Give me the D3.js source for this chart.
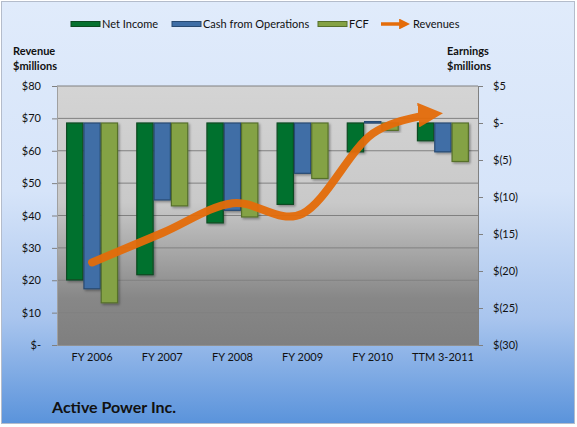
<!DOCTYPE html>
<html>
<head>
<meta charset="utf-8">
<script src="https://cdn.jsdelivr.net/npm/d3@7"></script>
<style>
  html, body { margin: 0; padding: 0; background: #fff; }
  svg text { font-family: Lato, "Open Sans", sans-serif; fill: #111; }
</style>
</head>
<body>
<div id="chart"></div>
<script>
// ── Data ────────────────────────────────────────────────────────────────────
const periods   = ['FY 2006', 'FY 2007', 'FY 2008', 'FY 2009', 'FY 2010', 'TTM 3-2011'];
const netIncome = [-21.2, -20.5, -13.5, -11.0, -3.9, -2.4];
const cashOps   = [-22.4, -10.4, -11.8, -6.8, 0.2, -3.9];
const fcf       = [-24.3, -11.2, -12.7, -7.5, -1.0, -5.2];
const revenues  = [25.5, 34.6, 43.8, 40.6, 65.3, 71.6];
const revTicks  = [0, 10, 20, 30, 40, 50, 60, 70, 80];
const earnTicks = [5, 0, -5, -10, -15, -20, -25, -30];

const series = [
  { key: 'Net Income',           values: netIncome, fill: '#05712f', stroke: '#0a4a20' },
  { key: 'Cash from Operations', values: cashOps,   fill: '#3f6ea6', stroke: '#284a72' },
  { key: 'FCF',                  values: fcf,       fill: '#84a244', stroke: '#56702c' },
];

// ── Layout ──────────────────────────────────────────────────────────────────
const W = 577, H = 427;
const P = { left: 57, right: 478, top: 86, bottom: 345 };

const svg = d3.select('#chart').append('svg').attr('width', W).attr('height', H);
const defs = svg.append('defs');

const bgGrad = defs.append('linearGradient').attr('id', 'bg')
  .attr('x1', 0).attr('y1', 0).attr('x2', 0).attr('y2', 1);
[[0, '#e0ebfb'], [0.45, '#d6e4f9'], [0.75, '#a9c5ee'], [1, '#5a93db']]
  .forEach(([o, c]) => bgGrad.append('stop').attr('offset', o).attr('stop-color', c));

const plotGrad = defs.append('linearGradient').attr('id', 'plotbg')
  .attr('x1', 0).attr('y1', 0).attr('x2', 0).attr('y2', 1);
[[0, '#d4d4d4'], [0.45, '#c9c9c9'], [0.82, '#878787'], [1, '#7f7f7f']]
  .forEach(([o, c]) => plotGrad.append('stop').attr('offset', o).attr('stop-color', c));

defs.append('filter').attr('id', 'shadow').attr('x', '-20%').attr('y', '-20%')
  .attr('width', '150%').attr('height', '150%')
  .append('feDropShadow').attr('dx', 1.5).attr('dy', 1.5)
  .attr('stdDeviation', 1).attr('flood-color', '#000').attr('flood-opacity', 0.35);

defs.append('marker').attr('id', 'arrow')
  .attr('viewBox', '0 0 10 10').attr('refX', 10).attr('refY', 5)
  .attr('markerWidth', 3.1).attr('markerHeight', 3.1)
  .attr('orient', 'auto')
  .append('path').attr('d', 'M0,0 L10,5 L0,10 z').attr('fill', '#e46c0a');

// Chart background
svg.append('rect').attr('x', 1.5).attr('y', 1.5).attr('width', W - 4).attr('height', H - 5)
  .attr('fill', 'url(#bg)').attr('stroke', '#b4bccb').attr('stroke-width', 1);

// ── Scales ──────────────────────────────────────────────────────────────────
const x0 = d3.scaleBand().domain(periods).range([P.left, P.right])
  .paddingInner(0.26).paddingOuter(0.13);
const x1 = d3.scaleBand().domain(series.map(s => s.key)).range([0, x0.bandwidth()]);
const yRev  = d3.scaleLinear().domain([0, 80]).range([P.bottom, P.top]);
const yEarn = d3.scaleLinear().domain([-30, 5]).range([P.bottom, P.top]);

// Plot area
svg.append('rect').attr('x', P.left).attr('y', P.top)
  .attr('width', P.right - P.left).attr('height', P.bottom - P.top)
  .attr('fill', 'url(#plotbg)');

// Gridlines (left axis)
svg.append('g').selectAll('line').data(revTicks.filter(t => t > 0)).join('line')
  .attr('x1', P.left).attr('x2', P.right)
  .attr('y1', d => yRev(d)).attr('y2', d => yRev(d))
  .attr('stroke', '#808080').attr('stroke-width', 1);

// ── Bars ────────────────────────────────────────────────────────────────────
const barsG = svg.append('g');
series.forEach(s => {
  barsG.append('g').selectAll('rect').data(s.values).join('rect')
    .attr('x', (d, i) => x0(periods[i]) + x1(s.key) + 0.5)
    .attr('y', d => Math.min(yEarn(d), yEarn(0)))
    .attr('width', x1.bandwidth() - 1)
    .attr('height', d => Math.abs(yEarn(d) - yEarn(0)))
    .attr('fill', s.fill).attr('stroke', s.stroke).attr('stroke-width', 1.2)
    .attr('filter', 'url(#shadow)');
});

// ── Axes ────────────────────────────────────────────────────────────────────
const leftAxis = svg.append('g').attr('transform', `translate(${P.left},0)`)
  .call(d3.axisLeft(yRev).tickValues(revTicks).tickSize(5).tickPadding(11)
    .tickFormat(d => d === 0 ? '$-' : '$' + d));
leftAxis.select('.domain').attr('stroke', '#a0a0a0');
leftAxis.selectAll('.tick line').attr('stroke', '#808080');
leftAxis.selectAll('text').attr('font-size', 11).attr('fill', '#111');

const rightAxis = svg.append('g').attr('transform', `translate(${P.right},0)`)
  .call(d3.axisRight(yEarn).tickValues(earnTicks).tickSize(5).tickPadding(10)
    .tickFormat(d => d === 0 ? '$-' : d < 0 ? `$(${-d})` : '$' + d));
rightAxis.select('.domain').attr('stroke', '#808080');
rightAxis.selectAll('.tick line').attr('stroke', '#808080');
rightAxis.selectAll('text').attr('font-size', 11).attr('fill', '#111');

const bottomAxis = svg.append('g').attr('transform', `translate(0,${P.bottom})`)
  .call(d3.axisBottom(x0).tickSize(0).tickPadding(8));
bottomAxis.select('.domain').attr('stroke', '#909090');
bottomAxis.selectAll('text').attr('font-size', 11).attr('fill', '#111');

// ── Revenue line (smoothed, with arrowhead) ────────────────────────────────
const line = d3.line()
  .x((d, i) => x0(periods[i]) + x0.bandwidth() / 2)
  .y(d => yRev(d))
  .curve(d3.curveCardinal.tension(0));

const revPath = svg.append('path').datum(revenues)
  .attr('d', line)
  .attr('fill', 'none').attr('stroke', '#e46c0a').attr('stroke-width', 8)
  .attr('stroke-linecap', 'round').attr('opacity', 0.95)
  .attr('marker-end', 'url(#arrow)');
const L = revPath.node().getTotalLength();
revPath.attr('stroke-dasharray', `${L - 14} ${L}`);

// ── Legend ──────────────────────────────────────────────────────────────────
const legend = svg.append('g').attr('transform', 'translate(0,24)');
const legendX = [71, 172, 318];
series.forEach((s, i) => {
  legend.append('rect').attr('x', legendX[i]).attr('y', -2.5)
    .attr('width', 29).attr('height', 5)
    .attr('fill', s.fill).attr('stroke', s.stroke).attr('stroke-width', 1);
  legend.append('text').attr('x', legendX[i] + 31).attr('y', 4)
    .attr('font-size', 11).text(s.key);
});
legend.append('line').attr('x1', 381).attr('x2', 410).attr('y1', 0).attr('y2', 0)
  .attr('stroke', '#e46c0a').attr('stroke-width', 3.5)
  .attr('stroke-dasharray', '20 40')
  .attr('marker-end', 'url(#arrow)');
legend.append('text').attr('x', 413).attr('y', 4).attr('font-size', 11).text('Revenues');

// ── Axis titles & chart title ───────────────────────────────────────────────
[['Revenue', 13, 55], ['$millions', 13, 70], ['Earnings', 447, 55], ['$millions', 447, 70]]
  .forEach(([t, x, y]) => svg.append('text').attr('x', x).attr('y', y)
    .attr('font-size', 11).attr('font-weight', 'bold').text(t));

svg.append('text').attr('x', 52).attr('y', 413)
  .attr('font-size', 16).attr('font-weight', 'bold').text('Active Power Inc.');
</script>
</body>
</html>
